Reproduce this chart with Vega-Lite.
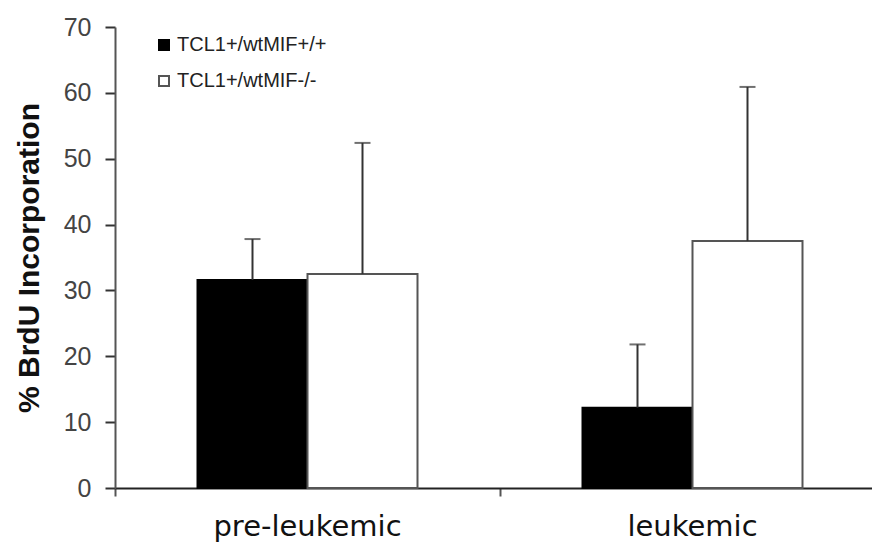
{
  "$schema": "https://vega.github.io/schema/vega-lite/v6.json",
  "width": 770,
  "height": 461,
  "autosize": {"type": "none"},
  "padding": {"left": 115, "top": 27, "right": 0, "bottom": 57},
  "background": "white",
  "config": {"view": {"stroke": null}},
  "data": {
    "values": [
      {"group": "pre-leukemic", "genotype": "TCL1+/wtMIF+/+", "value": 31.6, "upper": 37.8},
      {"group": "pre-leukemic", "genotype": "TCL1+/wtMIF-/-", "value": 32.5, "upper": 52.4},
      {"group": "leukemic", "genotype": "TCL1+/wtMIF+/+", "value": 12.2, "upper": 21.8},
      {"group": "leukemic", "genotype": "TCL1+/wtMIF-/-", "value": 37.5, "upper": 60.9}
    ]
  },
  "encoding": {
    "x": {
      "field": "group",
      "type": "nominal",
      "sort": ["pre-leukemic", "leukemic"],
      "scale": {"paddingInner": 0, "paddingOuter": 0},
      "axis": {
        "title": null,
        "labelAngle": 0,
        "labelLimit": 500,
        "bandPosition": 0,
        "domainColor": "#222",
        "domainWidth": 2,
        "tickColor": "#555",
        "tickWidth": 2,
        "tickSize": 8,
        "labelFont": "DejaVu Sans",
        "labelFontSize": 29,
        "labelColor": "#111",
        "labelPadding": 16
      }
    },
    "xOffset": {
      "field": "genotype",
      "type": "nominal",
      "sort": ["TCL1+/wtMIF+/+", "TCL1+/wtMIF-/-"],
      "scale": {"paddingInner": 0, "paddingOuter": 0.75}
    }
  },
  "layer": [
    {
      "mark": {"type": "bar", "strokeWidth": 2},
      "encoding": {
        "y": {
          "field": "value",
          "type": "quantitative",
          "scale": {"domain": [0, 70]},
          "axis": {
            "title": "% BrdU Incorporation",
            "titleFont": "Liberation Sans",
            "titleFontSize": 30,
            "titleFontWeight": "bold",
            "titleColor": "#111",
            "titlePadding": 19,
            "values": [0, 10, 20, 30, 40, 50, 60, 70],
            "grid": false,
            "domainColor": "#555",
            "domainWidth": 2,
            "tickColor": "#333",
            "tickWidth": 2,
            "tickSize": 10,
            "labelFont": "Liberation Sans",
            "labelFontSize": 25,
            "labelColor": "#444",
            "labelPadding": 14
          }
        },
        "fill": {
          "field": "genotype",
          "type": "nominal",
          "sort": ["TCL1+/wtMIF+/+", "TCL1+/wtMIF-/-"],
          "scale": {"domain": ["TCL1+/wtMIF+/+", "TCL1+/wtMIF-/-"], "range": ["#000000", "#ffffff"]},
          "legend": {
            "title": null,
            "orient": "none",
            "legendX": 39,
            "legendY": 8,
            "symbolType": "square",
            "symbolSize": 100,
            "symbolStrokeColor": "#000",
            "symbolStrokeWidth": 2,
            "labelFont": "Liberation Sans",
            "labelFontSize": 20,
            "labelColor": "#222",
            "labelOffset": 3,
            "rowPadding": 16
          }
        },
        "stroke": {
          "field": "genotype",
          "type": "nominal",
          "scale": {"domain": ["TCL1+/wtMIF+/+", "TCL1+/wtMIF-/-"], "range": ["#000000", "#555555"]},
          "legend": null
        }
      }
    },
    {
      "mark": {"type": "rule", "color": "#333", "strokeWidth": 2},
      "encoding": {
        "y": {"field": "value", "type": "quantitative"},
        "y2": {"field": "upper"}
      }
    },
    {
      "mark": {"type": "tick", "color": "#333", "thickness": 2, "size": 16},
      "encoding": {
        "y": {"field": "upper", "type": "quantitative"}
      }
    }
  ]
}
